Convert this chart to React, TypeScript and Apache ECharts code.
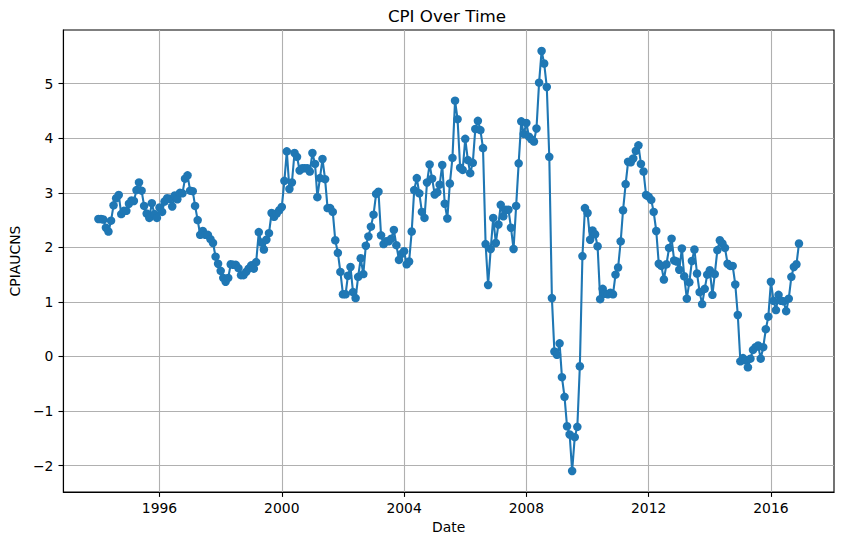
import React, { useEffect, useRef } from "react";
import * as echarts from "echarts";

// Year-over-year CPI change (%), monthly, Jan..Dec
const startYear = 1994;
const v1994 = [2.52, 2.52, 2.51, 2.36, 2.29, 2.49, 2.77, 2.90, 2.96, 2.61, 2.67, 2.67];
const v1995 = [2.80, 2.86, 2.85, 3.05, 3.19, 3.04, 2.76, 2.62, 2.54, 2.81, 2.61, 2.54];
const v1996 = [2.73, 2.65, 2.84, 2.90, 2.89, 2.75, 2.95, 2.88, 3.00, 2.99, 3.26, 3.32];
const v1997 = [3.04, 3.03, 2.76, 2.50, 2.23, 2.30, 2.23, 2.23, 2.15, 2.08, 1.83, 1.70];
const v1998 = [1.57, 1.44, 1.37, 1.44, 1.69, 1.68, 1.68, 1.62, 1.49, 1.49, 1.55, 1.61];
const v1999 = [1.67, 1.61, 1.73, 2.28, 2.09, 1.96, 2.14, 2.26, 2.63, 2.56, 2.62, 2.68];
const v2000 = [2.74, 3.22, 3.76, 3.07, 3.19, 3.73, 3.66, 3.41, 3.45, 3.45, 3.45, 3.39];
const v2001 = [3.73, 3.53, 2.92, 3.27, 3.62, 3.25, 2.72, 2.72, 2.65, 2.13, 1.90, 1.55];
const v2002 = [1.14, 1.14, 1.48, 1.64, 1.18, 1.07, 1.46, 1.80, 1.51, 2.03, 2.20, 2.38];
const v2003 = [2.60, 2.98, 3.02, 2.22, 2.06, 2.11, 2.11, 2.16, 2.32, 2.04, 1.77, 1.88];
const v2004 = [1.93, 1.69, 1.74, 2.29, 3.05, 3.27, 2.99, 2.65, 2.54, 3.19, 3.52, 3.26];
const v2005 = [2.97, 3.01, 3.15, 3.51, 2.80, 2.53, 3.17, 3.64, 4.69, 4.35, 3.46, 3.42];
const v2006 = [3.99, 3.60, 3.36, 3.55, 4.17, 4.32, 4.15, 3.82, 2.06, 1.31, 1.97, 2.54];
const v2007 = [2.08, 2.42, 2.78, 2.57, 2.69, 2.69, 2.36, 1.97, 2.76, 3.54, 4.31, 4.08];
const v2008 = [4.28, 4.03, 3.98, 3.94, 4.18, 5.02, 5.60, 5.37, 4.94, 3.66, 1.07, 0.09];
const v2009 = [0.03, 0.24, -0.38, -0.74, -1.28, -1.43, -2.10, -1.48, -1.29, -0.18, 1.84, 2.72];
const v2010 = [2.63, 2.14, 2.31, 2.24, 2.02, 1.05, 1.24, 1.15, 1.14, 1.17, 1.14, 1.50];
const v2011 = [1.63, 2.11, 2.68, 3.16, 3.57, 3.56, 3.63, 3.77, 3.87, 3.53, 3.39, 2.96];
const v2012 = [2.93, 2.87, 2.65, 2.30, 1.70, 1.66, 1.41, 1.69, 1.99, 2.16, 1.76, 1.74];
const v2013 = [1.59, 1.98, 1.47, 1.06, 1.36, 1.75, 1.96, 1.52, 1.18, 0.96, 1.24, 1.50];
const v2014 = [1.58, 1.13, 1.51, 1.95, 2.13, 2.07, 1.99, 1.70, 1.66, 1.66, 1.32, 0.76];
const v2015 = [-0.09, -0.03, -0.07, -0.20, -0.04, 0.12, 0.17, 0.20, -0.04, 0.17, 0.50, 0.73];
const v2016 = [1.37, 1.02, 0.85, 1.13, 1.02, 1.01, 0.83, 1.06, 1.46, 1.64, 1.69, 2.07];

const yearlyValues = [
  v1994, v1995, v1996, v1997, v1998, v1999, v2000, v2001, v2002, v2003, v2004, v2005,
  v2006, v2007, v2008, v2009, v2010, v2011, v2012, v2013, v2014, v2015, v2016,
];

const xTickYears = [1996, 2000, 2004, 2008, 2012, 2016];
const yTicks = [-2, -1, 0, 1, 2, 3, 4, 5];

export default function App() {
  const ref = useRef<HTMLDivElement>(null);

  useEffect(() => {
    if (!ref.current) return;
    const chart = echarts.init(ref.current, null, { renderer: "svg" });

    const data: [number, number][] = [];
    yearlyValues.forEach((arr, yi) => {
      arr.forEach((v, m) => {
        data.push([Date.UTC(startYear + yi, m, 1), v]);
      });
    });
    const xs = data.map((d) => d[0]);
    const ys = data.map((d) => d[1]);
    const x0 = Math.min(...xs), x1 = Math.max(...xs);
    const y0 = Math.min(...ys), y1 = Math.max(...ys);
    const xPad = (x1 - x0) * 0.05, yPad = (y1 - y0) * 0.05;

    const font = "DejaVu Sans";
    const blue = "#1f77b4";

    chart.setOption({
      animation: false,
      backgroundColor: "#ffffff",
      textStyle: { fontFamily: font },
      title: {
        text: "CPI Over Time",
        left: 447,
        top: 7,
        padding: 0,
        textAlign: "center",
        textStyle: { fontFamily: font, fontSize: 16.7, fontWeight: "normal", color: "#000" },
      },
      grid: {
        left: 59,
        right: 10,
        top: 30,
        bottom: 53,
        show: true,
        borderColor: "#000",
        borderWidth: 1.1,
        backgroundColor: "transparent",
      },
      xAxis: {
        type: "value",
        min: x0 - xPad,
        max: x1 + xPad,
        name: "Date",
        nameLocation: "middle",
        nameGap: 28,
        nameTextStyle: { fontFamily: font, fontSize: 13.9, color: "#000" },
        axisLine: { show: true, onZero: false, lineStyle: { color: "#000", width: 1.1 } },
        axisTick: {
          show: true,
          length: 4.9,
          lineStyle: { color: "#000", width: 1.1 },
          customValues: xTickYears.map((y) => Date.UTC(y, 0, 1)),
        },
        axisLabel: {
          fontFamily: font,
          fontSize: 13.9,
          color: "#000",
          margin: 9,
          customValues: xTickYears.map((y) => Date.UTC(y, 0, 1)),
          formatter: (v: number) => String(new Date(v).getUTCFullYear()),
        },
        splitLine: { show: true, lineStyle: { color: "#b0b0b0", width: 1.1 } },
      },
      yAxis: {
        type: "value",
        min: y0 - yPad,
        max: y1 + yPad,
        name: "CPIAUCNS",
        nameLocation: "middle",
        nameGap: 35,
        nameTextStyle: { fontFamily: font, fontSize: 13.9, color: "#000" },
        axisLine: { show: true, onZero: false, lineStyle: { color: "#000", width: 1.1 } },
        axisTick: {
          show: true,
          length: 4.9,
          lineStyle: { color: "#000", width: 1.1 },
          customValues: yTicks,
        },
        axisLabel: {
          fontFamily: font,
          fontSize: 13.9,
          color: "#000",
          margin: 10,
          customValues: yTicks,
          formatter: (v: number) => (v < 0 ? "\u2212" + Math.abs(v) : String(v)),
        },
        splitLine: { show: true, lineStyle: { color: "#b0b0b0", width: 1.1 } },
      },
      series: [
        {
          type: "line",
          data,
          symbol: "circle",
          symbolSize: 8.5,
          showSymbol: true,
          showAllSymbol: true,
          itemStyle: { color: blue },
          lineStyle: { color: blue, width: 2.1 },
        },
      ],
    });

    return () => chart.dispose();
  }, []);

  return <div ref={ref} style={{ width: 844, height: 545, margin: -8 }} />;
}
